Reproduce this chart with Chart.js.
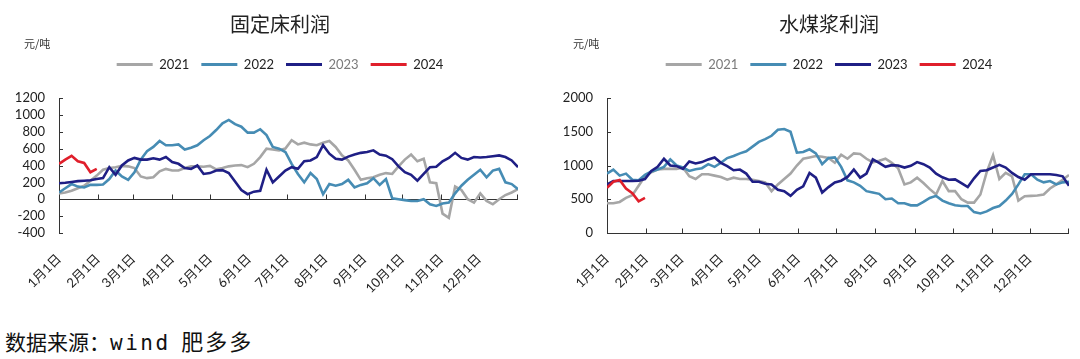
<!DOCTYPE html>
<html>
<head>
<meta charset="utf-8">
<script src="https://cdn.jsdelivr.net/npm/chart.js@4.4.1/dist/chart.umd.min.js"></script>
<style>
body{margin:0;background:#fff;width:1080px;height:359px;overflow:hidden;position:relative}
.box{position:absolute;top:0;width:540px;height:300px}
.unit{position:absolute;top:37px;font-size:11px;line-height:13px;color:#333;font-family:"Noto Sans CJK SC",sans-serif}
#src{position:absolute;left:5px;top:327px;font-size:21px;line-height:26px;color:#111;font-family:"Noto Sans CJK SC",sans-serif}
#src .en{font-family:"DejaVu Sans Mono",monospace;letter-spacing:2.5px}
#src .cn{letter-spacing:2px;font-size:22px;margin-left:6px}
</style>
</head>
<body>
<div class="box" style="left:0"><canvas id="c1"></canvas></div>
<div class="box" style="left:540px"><canvas id="c2"></canvas></div>
<div class="unit" style="left:24px">元/吨</div>
<div class="unit" style="left:573px">元/吨</div>
<div id="src">数据来源：<span class="en">wind</span> <span class="cn">肥多多</span></div>
<script>
// 日序 (每5天取一个点)
var days = [0,5,10,15,20,25,30,35,40,45,50,55,60,65,70,75,80,85,90,95,
  100,105,110,115,120,125,130,135,140,145,150,155,160,165,170,175,
  180,185,190,195,200,205,210,215,220,225,230,235,240,245,250,255,260,265,270,275,
  280,285,290,295,300,305,310,315,320,325,330,335,340,345,350,355,360,365];
var monthDays = [0,31,59,90,120,151,181,212,243,273,304,334];
var monthLabels = ["1月1日","2月1日","3月1日","4月1日","5月1日","6月1日","7月1日","8月1日","9月1日","10月1日","11月1日","12月1日"];
var seriesNames = ["2021","2022","2023","2024"];
var seriesColors = ["#a6a6a6","#468cb4","#1f1f85","#e01f2b"];

// 固定床利润
var fixed2021 = [70,80,100,130,160,220,280,350,370,380,395,390,370,270,250,260,330,360,340,340,
  370,390,390,385,395,355,370,390,400,405,380,420,500,600,590,580,
  600,700,650,670,650,640,670,690,620,520,460,350,230,250,260,290,310,300,390,470,
  530,450,480,200,190,-170,-220,150,110,0,-40,70,-20,-60,0,50,80,120];
var fixed2022 = [80,130,180,150,140,170,170,175,240,340,270,230,320,470,570,620,690,640,640,650,
  590,610,640,700,750,820,900,940,890,860,790,790,830,760,620,600,
  560,420,300,200,310,240,60,180,160,180,230,140,170,190,250,170,240,10,0,-10,
  -20,-20,0,-60,-80,-50,-40,70,160,230,290,350,260,340,360,200,180,120];
var fixed2023 = [190,195,205,215,220,225,240,250,380,290,400,460,490,470,470,485,470,500,440,420,
  370,360,400,300,310,340,345,310,210,110,60,90,100,350,200,270,
  340,380,360,450,460,500,640,540,480,470,505,530,550,560,580,530,517,475,390,320,
  290,220,300,380,385,450,490,550,490,470,500,495,500,510,520,500,460,380];
var fixed2024 = [420,470,515,450,430,320,360];

// 水煤浆利润
var slurry2021 = [440,440,460,520,560,700,840,900,940,950,950,950,970,840,800,870,870,850,830,790,
  820,800,800,790,770,750,620,720,800,880,1000,1100,1120,1140,1130,1110,
  1040,1160,1100,1180,1170,1100,1045,1070,1100,1040,960,720,750,820,740,650,570,770,620,620,
  500,450,450,570,900,1150,800,890,840,480,545,550,555,570,660,720,790,860];
var slurry2022 = [880,940,850,880,790,780,860,910,940,980,1090,1000,970,920,945,960,1020,980,1040,1110,
  1140,1180,1210,1280,1350,1390,1440,1530,1540,1500,1190,1200,1240,1180,1020,1110,
  1120,980,780,750,700,620,600,580,500,510,440,440,410,410,460,520,550,480,440,410,
  400,400,310,290,320,370,400,480,580,720,870,870,790,750,770,720,750,760];
var slurry2023 = [720,770,770,770,770,775,800,920,980,1100,1000,990,950,1060,1030,1050,1090,1120,1040,990,
  930,940,880,760,760,730,720,640,620,550,640,690,890,820,600,680,
  750,775,830,940,820,880,1090,1040,980,1005,1000,970,995,1050,1020,970,880,825,790,795,
  740,680,810,920,930,970,1010,970,890,830,790,870,870,870,870,860,840,700];
var slurry2024 = [670,760,785,660,590,470,520];

var fontFam = "Lato, 'Noto Sans CJK SC', sans-serif";

// 坐标轴: 0线、月份刻度(朝上)、y轴刻度(朝内)
var axisMarks = {
  id: "axisMarks",
  beforeDatasetsDraw: function(chart) {
    var ctx = chart.ctx, a = chart.chartArea, x = chart.scales.x, y = chart.scales.y;
    var y0 = Math.round(y.getPixelForValue(0)) + 0.5;
    ctx.save();
    ctx.strokeStyle = "#333";
    ctx.lineWidth = 1;
    ctx.beginPath();
    ctx.moveTo(a.left, y0);
    ctx.lineTo(a.right, y0);
    x.ticks.forEach(function(t) {
      var px = Math.round(x.getPixelForValue(t.value)) + 0.5;
      ctx.moveTo(px, y0);
      ctx.lineTo(px, y0 - 5);
    });
    ctx.moveTo(Math.round(a.right) - 0.5, y0);
    ctx.lineTo(Math.round(a.right) - 0.5, y0 - 5);
    y.ticks.forEach(function(t) {
      var py = Math.round(y.getPixelForValue(t.value)) + 0.5;
      ctx.moveTo(a.left, py);
      ctx.lineTo(a.left + 4, py);
    });
    ctx.stroke();
    ctx.restore();
  }
};

// 图例与绘图区之间多留一点空
var legendGap = {
  id: "legendGap",
  beforeUpdate: function(chart) {
    var lg = chart.legend;
    if (lg && !lg.gapDone) {
      var fit = lg.fit;
      lg.fit = function() { fit.call(this); this.height += 17; };
      lg.gapDone = true;
    }
  }
};

function makeChart(id, title, series, yMin, yMax, yStep, pad, yW, grayText) {
  var datasets = series.map(function(vals, k) {
    return {
      label: seriesNames[k],
      data: vals.map(function(v, i) { return {x: days[i], y: v}; }),
      borderColor: seriesColors[k],
      backgroundColor: seriesColors[k],
      borderWidth: 2.6,
      pointRadius: 0,
      tension: 0,
      order: 4 - k
    };
  });
  return new Chart(document.getElementById(id), {
    type: "line",
    data: {datasets: datasets},
    options: {
      responsive: true,
      maintainAspectRatio: false,
      animation: false,
      layout: {padding: pad},
      plugins: {
        tooltip: {enabled: false},
        title: {
          display: true,
          text: title,
          color: "#222",
          font: {size: 20, family: "'Noto Sans CJK SC', sans-serif", weight: "normal"},
          padding: {top: 12, bottom: 10}
        },
        legend: {
          display: true,
          labels: {
            boxWidth: 36,
            boxHeight: 3,
            padding: 12,
            color: "#222",
            font: {size: 13, family: fontFam},
            sort: function(a, b) { return a.datasetIndex - b.datasetIndex; },
            generateLabels: function(chart) {
              return Chart.defaults.plugins.legend.labels.generateLabels(chart).map(function(l) {
                l.lineWidth = 0;
                l.fontColor = (l.datasetIndex === grayText) ? "#7a7a7a" : "#222";
                return l;
              });
            }
          }
        }
      },
      scales: {
        x: {
          type: "linear",
          min: 0,
          max: 365,
          grid: {display: false},
          border: {display: false},
          afterBuildTicks: function(axis) {
            axis.ticks = monthDays.map(function(v) { return {value: v}; });
          },
          afterFit: function(axis) { axis.height = 67; },
          ticks: {
            autoSkip: false,
            minRotation: 45,
            maxRotation: 45,
            padding: 10,
            color: "#222",
            font: {size: 13, family: fontFam},
            callback: function(v, i) { return monthLabels[i] || ""; }
          }
        },
        y: {
          min: yMin,
          max: yMax,
          grid: {display: false, drawTicks: false},
          border: {display: true, color: "#333", width: 1},
          afterFit: function(axis) {
            axis.width = yW;
            // 轴很窄, 刻度文字不要被裁掉
            axis._computeLabelArea = function() { return undefined; };
          },
          ticks: {
            stepSize: yStep,
            autoSkip: false,
            padding: 14,
            color: "#222",
            font: {size: 13, family: fontFam},
            callback: function(v) { return String(v); }
          }
        }
      }
    },
    plugins: [axisMarks, legendGap]
  });
}

makeChart("c1", "固定床利润", [fixed2021, fixed2022, fixed2023, fixed2024],
  -400, 1200, 200, {left: 42, right: 22, top: 0, bottom: 0}, 17, 2);
makeChart("c2", "水煤浆利润", [slurry2021, slurry2022, slurry2023, slurry2024],
  0, 2000, 500, {left: 49, right: 11, top: 0, bottom: 0}, 18, 0);
</script>
</body>
</html>
